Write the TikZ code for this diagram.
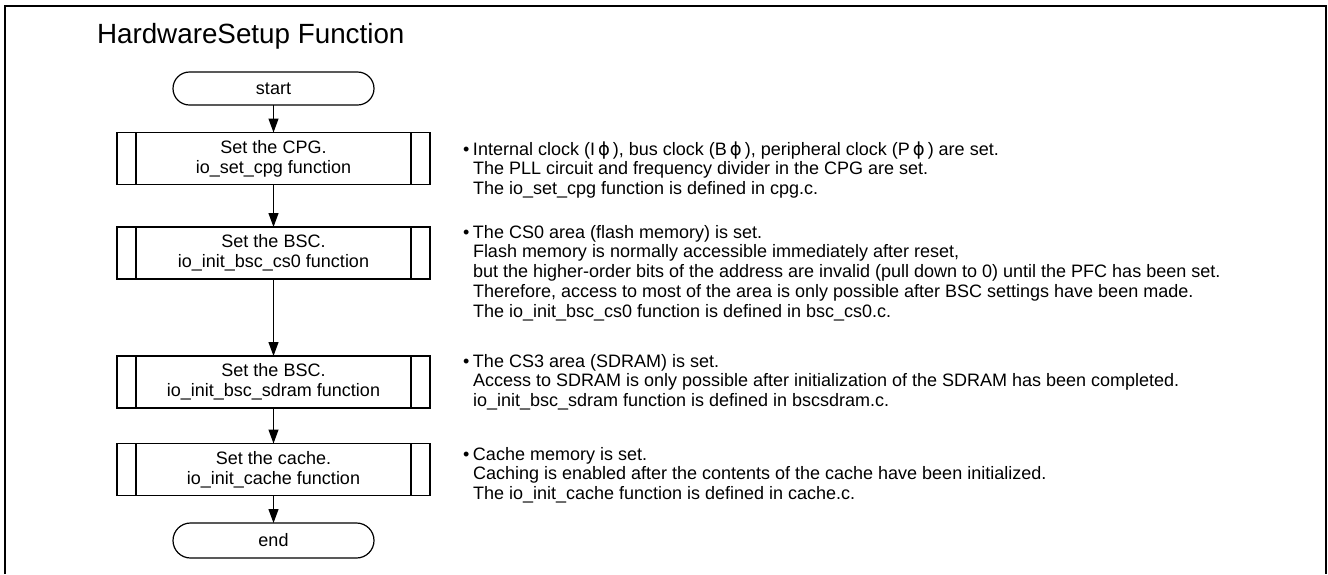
\documentclass[tikz,border=0pt]{standalone}
\usepackage{fontspec}
\setmainfont{Liberation Sans}
\newfontfamily\phifont{DejaVu Sans}
\usetikzlibrary{arrows.meta}

\newcommand{\phisym}{\,{\phifont ϕ}\,}
% top-aligned note block, so that its base is the first line's baseline;
% the bullet hangs to the left of the first line
\newcommand{\noteblock}[1]{\parbox[t]{820pt}{\raggedright\fontsize{18}{19.8}\selectfont
  \leavevmode\llap{•\hspace{3.5pt}}#1}}

\begin{document}
\begin{tikzpicture}[x=1pt,y=-1pt,
  every node/.style={inner sep=0pt, outer sep=0pt},
  flowline/.style={line width=1.2pt},
  terminal/.style={draw, line width=1.2pt, rounded corners=16.5pt,
    minimum width=201pt, minimum height=33pt,
    font=\fontsize{18}{20}\selectfont},
  subproc/.style={draw, line width=1.2pt, minimum width=313pt, minimum height=52pt,
    align=center, font=\fontsize{18}{20}\selectfont,
    path picture={
      \draw[line width=1.2pt]
        ([xshift=19pt]path picture bounding box.north west) --
        ([xshift=19pt]path picture bounding box.south west);
      \draw[line width=1.2pt]
        ([xshift=-19pt]path picture bounding box.north east) --
        ([xshift=-19pt]path picture bounding box.south east);
    }},
  arr/.style={flowline, -{Triangle[length=14pt,width=10pt]}},
  note/.style={anchor=base west},
  titletext/.style={anchor=base west, font=\fontsize{27.8}{31}\selectfont}
]
\useasboundingbox (0,0) rectangle (1328,574);

% outer frame, open at the bottom
\draw[line width=2pt] (5,574) -- (5,6) -- (1326,6) -- (1326,574);

\node[titletext] (title) at (97,43) {HardwareSetup Function};

% flow
\node[terminal] (start) at (273.5,88.5) {start};
\node[subproc] (cpg) at (273.5,158.5) {Set the CPG.\\io\_set\_cpg function};
\node[subproc] (cs0) at (273.5,253) {Set the BSC.\\io\_init\_bsc\_cs0 function};
\node[subproc] (sdram) at (273.5,382) {Set the BSC.\\io\_init\_bsc\_sdram function};
\node[subproc] (cache) at (273.5,469.5) {Set the cache.\\io\_init\_cache function};
\node[terminal, minimum height=35pt, rounded corners=17.5pt] (end) at (273.5,540.5) {end};

\draw[arr] (start) -- (cpg);
\draw[arr] (cpg) -- (cs0);
\draw[arr] (cs0) -- (sdram);
\draw[arr] (sdram) -- (cache);
\draw[arr] (cache) -- (end);

% notes beside each step
\node[note] (n1) at (473,155) {\noteblock{Internal clock (I\phisym), bus clock (B\phisym), peripheral clock (P\phisym) are set.\\
The PLL circuit and frequency divider in the CPG are set.\\
The io\_set\_cpg function is defined in cpg.c.}};

\node[note] (n2) at (473,238) {\noteblock{The CS0 area (flash memory) is set.\\
Flash memory is normally accessible immediately after reset,\\
but the higher-order bits of the address are invalid (pull down to 0) until the PFC has been set.\\
Therefore, access to most of the area is only possible after BSC settings have been made.\\
The io\_init\_bsc\_cs0 function is defined in bsc\_cs0.c.}};

\node[note] (n3) at (473,367) {\noteblock{The CS3 area (SDRAM) is set.\\
Access to SDRAM is only possible after initialization of the SDRAM has been completed.\\
io\_init\_bsc\_sdram function is defined in bscsdram.c.}};

\node[note] (n4) at (473,460) {\noteblock{Cache memory is set.\\
Caching is enabled after the contents of the cache have been initialized.\\
The io\_init\_cache function is defined in cache.c.}};
\end{tikzpicture}
\end{document}
